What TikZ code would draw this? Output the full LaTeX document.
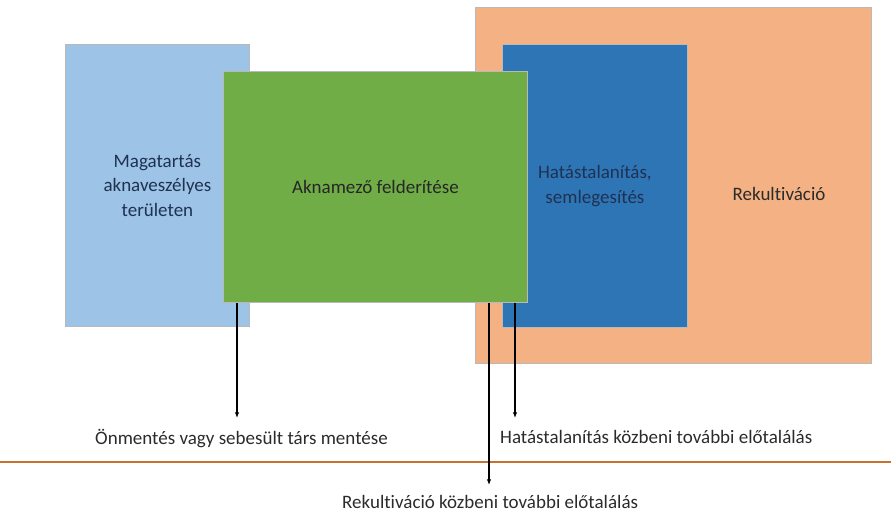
\documentclass[tikz,border=0pt]{standalone}
\usepackage{fontspec}
\setmainfont{Carlito}[Ligatures=CommonOff]
\usetikzlibrary{arrows.meta}

\definecolor{lightblue}{HTML}{9DC3E6}
\definecolor{fieldgreen}{HTML}{70AD47}
\definecolor{peach}{HTML}{F4B183}
\definecolor{darkblue}{HTML}{2E75B6}
\definecolor{navytext}{HTML}{1F3252}
\definecolor{greytext}{HTML}{2B2B2B}
\definecolor{rustline}{HTML}{C8702E}

\begin{document}
\begin{tikzpicture}[x=1pt,y=-1pt,
	box/.style={draw=gray!55, line width=0.8pt, anchor=north west, inner sep=0pt,
		align=center, font=\fontsize{19}{24.5}\selectfont},
	lab/.style={anchor=west, inner sep=0pt, text=greytext, font=\fontsize{19}{24}\selectfont},
	arr/.style={-{Latex[length=2mm,width=1.6mm]}, line width=1.4pt}]
	\useasboundingbox (0,0) rectangle (891,513);

	% the four areas
	\node[box, fill=peach, minimum width=396pt, minimum height=356pt] (rekult) at (475,7) {};
	\node[box, fill=darkblue, text=navytext, minimum width=185pt, minimum height=283pt] (hatast) at (502,44)
		{Hatástalanítás,\\semlegesítés};
	\node[box, fill=lightblue, text=navytext, minimum width=184pt, minimum height=282pt] (magatart) at (65,44)
		{Magatartás\\aknaveszélyes\\területen};
	\node[box, fill=fieldgreen, text=black!85, minimum width=304pt, minimum height=231pt] (felder) at (223,71)
		{Aknamező felderítése};
	\node[anchor=center, inner sep=0pt, text=greytext, font=\fontsize{19}{24}\selectfont] (rekultlab) at (779,194)
		{Rekultiváció};

	% separator
	\draw[rustline, line width=1.8pt] (0,462) -- (891,462);

	% outcomes
	\node[lab] (onment) at (95,439) {Önmentés vagy sebesült társ mentése};
	\node[lab] (hatastkozben) at (500,437) {Hatástalanítás közbeni további előtalálás};
	\node[lab] (rekultkozben) at (342,502) {Rekultiváció közbeni további előtalálás};

	\coordinate (e1) at (237,418);
	\coordinate (e2) at (489,485);
	\coordinate (e3) at (515,418);

	\draw[arr] (e1 |- felder.south) -- (e1);
	\draw[arr] (e2 |- felder.south) -- (e2);
	\draw[arr] (e3 |- felder.south) -- (e3);
\end{tikzpicture}
\end{document}
